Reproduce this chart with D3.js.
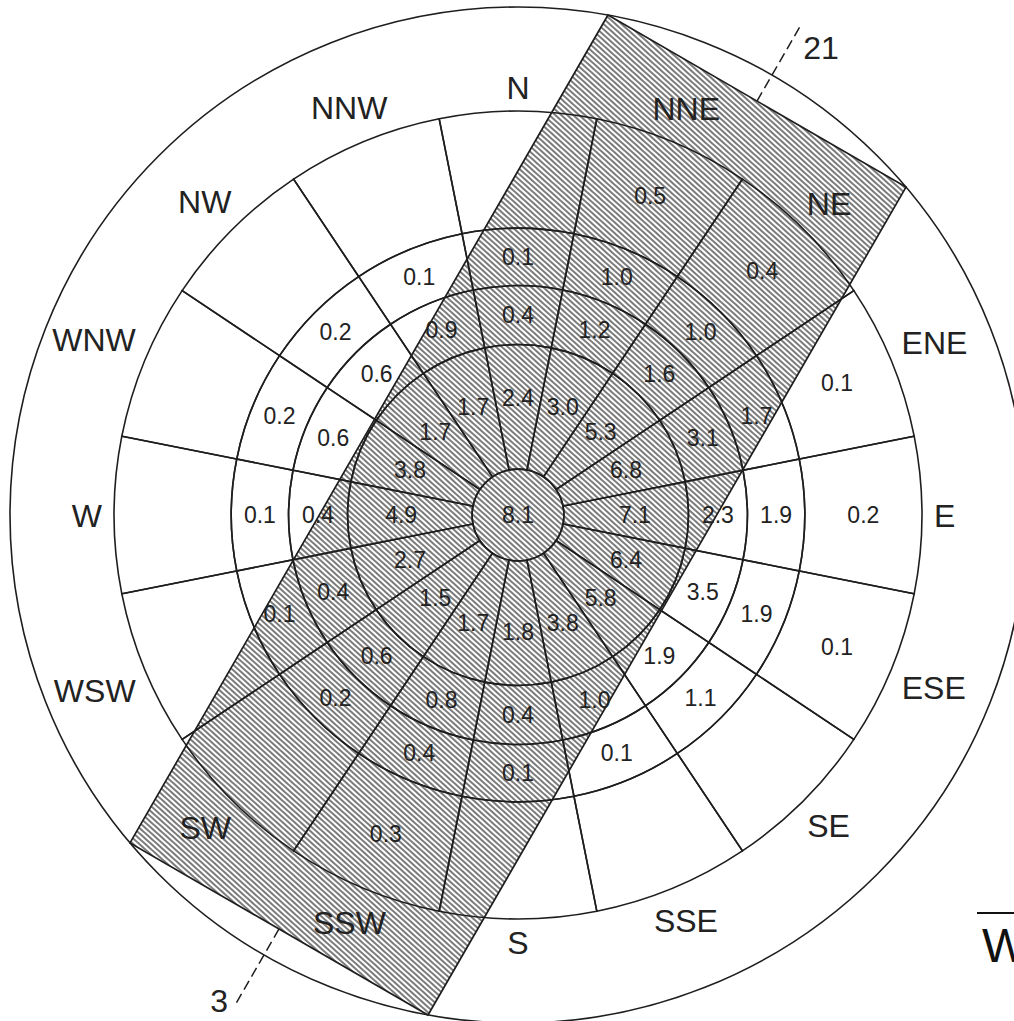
<!DOCTYPE html>
<html>
<head>
<meta charset="utf-8">
<script src="https://cdn.jsdelivr.net/npm/d3@7"></script>
<style>
  html, body { margin: 0; padding: 0; background: #fff; }
  svg { display: block; }
  text { font-family: "Liberation Sans", Arial, Helvetica, sans-serif; fill: #222; }
</style>
</head>
<body>
<svg id="chart" width="1014" height="1021"></svg>
<script>
// wind directions, clockwise from north
var directions = ["N", "NNE", "NE", "ENE", "E", "ESE", "SE", "SSE",
                  "S", "SSW", "SW", "WSW", "W", "WNW", "NW", "NNW"];

// percent of observations, calm in the middle then one array per speed band
var calm = 8.1;
var band1 = [2.4, 3.0, 5.3, 6.8, 7.1, 6.4, 5.8, 3.8, 1.8, 1.7, 1.5, 2.7, 4.9, 3.8, 1.7, 1.7];
var band2 = [0.4, 1.2, 1.6, 3.1, 2.3, 3.5, 1.9, 1.0, 0.4, 0.8, 0.6, 0.4, 0.4, 0.6, 0.6, 0.9];
var band3 = [0.1, 1.0, 1.0, 1.7, 1.9, 1.9, 1.1, 0.1, 0.1, 0.4, 0.2, 0.1, 0.1, 0.2, 0.2, 0.1];
var band4 = [null, 0.5, 0.4, 0.1, 0.2, 0.1, null, null, null, 0.3, null, null, null, null, null, null];

// ring edges (knots) and runway
var speedEdges = [2.8, 10.4, 14, 17.5, 24.65, 31];
var crosswindLimit = 10.5;
var runwayHeading = 30;
var runwayLabels = ["21", "3"];

var svg = d3.select("#chart");
var cx = 518, cy = 515;

var rScale = d3.scaleLinear().domain([0, 31]).range([0, 508]);
var aScale = d3.scaleLinear().domain([0, 16]).range([0, 2 * Math.PI]);
var R = rScale(speedEdges[speedEdges.length - 1]);

function pt(a, r) {
    return [cx + r * Math.sin(a), cy - r * Math.cos(a)];
}

var defs = svg.append("defs");
defs.append("pattern")
    .attr("id", "hatch")
    .attr("patternUnits", "userSpaceOnUse")
    .attr("width", 4)
    .attr("height", 4)
    .attr("patternTransform", "rotate(-48)")
    .append("line")
    .attr("x1", 2).attr("y1", -1)
    .attr("x2", 2).attr("y2", 5)
    .attr("stroke", "#5a5a5a")
    .attr("stroke-width", 1.6);

// runway rectangle, corners sit on the outer circle
var rw = runwayHeading * Math.PI / 180;
var ax = [Math.sin(rw), -Math.cos(rw)];
var bx = [Math.cos(rw), Math.sin(rw)];
var halfW = rScale(crosswindLimit);
var halfL = Math.sqrt(R * R - halfW * halfW);

function rwPt(along, perp) {
    return [cx + along * ax[0] + perp * bx[0], cy + along * ax[1] + perp * bx[1]];
}

var corners = [rwPt(halfL, -halfW), rwPt(halfL, halfW), rwPt(-halfL, halfW), rwPt(-halfL, -halfW)];

svg.append("polygon")
    .attr("points", corners.map(function (p) { return p.join(","); }).join(" "))
    .attr("fill", "url(#hatch)")
    .attr("stroke", "none");

var g = svg.append("g").attr("transform", "translate(" + cx + "," + cy + ")");

// cells
var arc = d3.arc();
var bands = [band1, band2, band3, band4];
bands.forEach(function (band, b) {
    directions.forEach(function (d, i) {
        g.append("path")
            .attr("d", arc({
                innerRadius: rScale(speedEdges[b]),
                outerRadius: rScale(speedEdges[b + 1]),
                startAngle: aScale(i - 0.5),
                endAngle: aScale(i + 0.5)
            }))
            .attr("fill", "none")
            .attr("stroke", "#1e1e1e")
            .attr("stroke-width", 1.6);
    });
});

[speedEdges[0], speedEdges[5]].forEach(function (s) {
    g.append("circle")
        .attr("r", rScale(s))
        .attr("fill", "none")
        .attr("stroke", "#1e1e1e")
        .attr("stroke-width", 1.6);
});

// runway outline
svg.append("polygon")
    .attr("points", corners.map(function (p) { return p.join(","); }).join(" "))
    .attr("fill", "none")
    .attr("stroke", "#1e1e1e")
    .attr("stroke-width", 1.7);

// runway axis, dashed past the ends
[1, -1].forEach(function (s, k) {
    var p1 = rwPt(s * halfL, 0);
    var p2 = rwPt(s * 568, 0);
    svg.append("line")
        .attr("x1", p1[0]).attr("y1", p1[1])
        .attr("x2", p2[0]).attr("y2", p2[1])
        .attr("stroke", "#1e1e1e")
        .attr("stroke-width", 1.5)
        .attr("stroke-dasharray", "10,5");
    var lp = k == 0 ? rwPt(556, 29) : rwPt(-570, -16);
    svg.append("text")
        .text(runwayLabels[k])
        .attr("x", lp[0])
        .attr("y", lp[1] + 11.5)
        .attr("font-size", 32)
        .attr("text-anchor", "middle");
});

// values
var labelFrac = [0.57, 0.5, 0.5, 0.5];
bands.forEach(function (band, b) {
    var r0 = rScale(speedEdges[b]), r1 = rScale(speedEdges[b + 1]);
    var rl = r0 + labelFrac[b] * (r1 - r0);
    band.forEach(function (v, i) {
        if (v == null) return;
        var p = pt(aScale(i), rl);
        svg.append("text")
            .text(v.toFixed(1))
            .attr("x", p[0])
            .attr("y", p[1] + 8)
            .attr("font-size", 23)
            .attr("text-anchor", "middle");
    });
});

svg.append("text")
    .text(calm.toFixed(1))
    .attr("x", cx)
    .attr("y", cy + 8)
    .attr("font-size", 23)
    .attr("text-anchor", "middle");

// direction names, pushed out by their box size
directions.forEach(function (d, i) {
    var a = aScale(i);
    var t = svg.append("text")
        .text(d)
        .attr("font-size", 32)
        .attr("text-anchor", "middle");
    var w = t.node().getComputedTextLength();
    var r = 416 + 11.5 * Math.abs(Math.cos(a)) + (w / 2) * Math.abs(Math.sin(a));
    var p = pt(a, r);
    t.attr("x", p[0]).attr("y", p[1] + 11.5);
});

// edge of the neighbouring panel
svg.append("line")
    .attr("x1", 977).attr("y1", 913)
    .attr("x2", 1014).attr("y2", 913)
    .attr("stroke", "#111")
    .attr("stroke-width", 2);
svg.append("text")
    .text("W")
    .attr("x", 982)
    .attr("y", 962)
    .attr("font-size", 48)
    .style("fill", "#111");
</script>
</body>
</html>
